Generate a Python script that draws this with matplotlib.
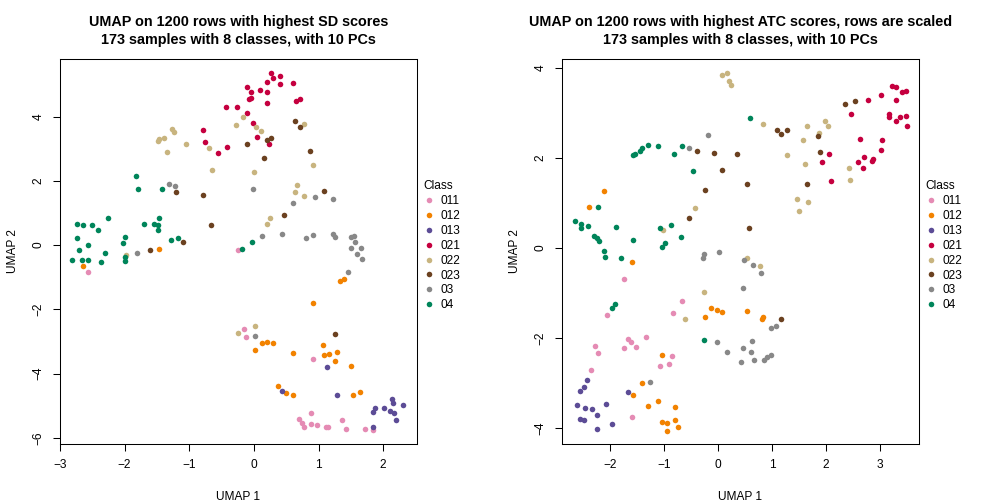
import matplotlib
matplotlib.use("Agg")
import matplotlib.pyplot as plt
from matplotlib.lines import Line2D

plt.rcParams["font.family"] = ["Liberation Sans", "DejaVu Sans"]

classes = ["011", "012", "013", "021", "022", "023", "03", "04"]
colors = ["#E58BB4", "#F28200", "#5C4C96", "#C5003F", "#C8B47F", "#6B4120", "#888888", "#00855A"]

# left panel: UMAP on rows with highest SD scores
sd_011 = [(-0.24, -0.16), (-2.56, -0.83), (-0.16, -2.60), (-0.13, -2.87), (0.92, -3.53),
          (0.89, -5.21), (0.70, -5.42), (0.74, -5.55), (0.78, -5.67), (0.88, -5.57),
          (0.98, -5.60), (1.12, -5.65), (1.15, -5.66), (1.37, -5.43), (1.42, -5.73),
          (1.72, -5.72), (1.85, -5.74)]
sd_012 = [(-1.47, -0.12), (-2.65, -0.65), (1.40, -1.05), (1.33, -1.13), (0.91, -1.81),
          (0.12, -3.04), (0.20, -3.03), (0.29, -3.06), (0.02, -3.25), (1.07, -3.11),
          (1.29, -3.33), (0.60, -3.37), (1.09, -3.41), (1.16, -3.40), (1.26, -3.60),
          (1.50, -3.75), (0.37, -4.40), (0.50, -4.60), (0.60, -4.65), (1.54, -4.65),
          (1.64, -4.56)]
sd_013 = [(1.13, -3.78), (0.44, -4.53), (1.29, -4.65), (2.14, -4.80), (2.15, -4.92),
          (2.31, -4.99), (1.87, -5.06), (1.85, -5.20), (2.02, -5.08), (2.11, -5.15),
          (2.17, -5.24), (2.20, -5.43), (1.85, -5.65)]
sd_021 = [(-0.43, 4.29), (-0.26, 4.29), (-0.78, 3.58), (-0.76, 3.20), (-0.42, 3.05),
          (-0.56, 2.86), (0.26, 5.36), (0.41, 5.27), (0.30, 5.19), (0.20, 5.07),
          (0.40, 5.02), (0.60, 5.04), (-0.11, 4.93), (0.10, 4.83), (-0.04, 4.76),
          (0.21, 4.75), (-0.08, 4.55), (-0.04, 4.57), (0.20, 4.43), (0.65, 4.48),
          (0.71, 4.54), (-0.10, 4.11), (-0.02, 3.80), (0.05, 3.36), (0.23, 3.14)]
sd_022 = [(-0.27, 3.73), (-1.27, 3.60), (-1.23, 3.53), (-1.47, 3.30), (-1.39, 3.32),
          (-1.49, 3.24), (-1.05, 3.13), (-0.70, 3.03), (-1.34, 2.91), (-0.65, 2.34),
          (-1.98, -0.32), (-0.17, 3.98), (0.04, 3.66), (0.11, 3.56), (0.77, 3.76),
          (0.91, 2.49), (0.00, 2.27), (0.67, 1.88), (0.63, 1.66), (0.77, 1.53),
          (0.25, 0.84), (0.21, 0.64), (0.01, -2.52), (-0.25, -2.73)]
sd_023 = [(-1.21, 1.65), (-0.78, 1.57), (-0.66, 0.63), (-1.09, 0.10), (-1.61, -0.16),
          (0.63, 3.86), (0.72, 3.67), (0.21, 3.27), (0.27, 3.33), (-0.11, 3.14),
          (0.87, 2.93), (0.16, 2.71), (1.08, 1.67), (0.47, 0.94), (1.26, -2.77)]
sd_03 = [(-1.32, 1.90), (-1.22, 1.84), (-1.81, -0.24), (-0.01, 1.75), (0.94, 1.50),
         (1.22, 1.44), (0.60, 1.31), (0.13, 0.29), (0.43, 0.35), (0.80, 0.22),
         (0.91, 0.32), (1.23, 0.35), (1.26, 0.26), (1.50, 0.25), (1.55, 0.27),
         (1.56, 0.10), (1.50, -0.09), (1.65, -0.09), (1.59, -0.29), (1.67, -0.43),
         (1.46, -0.83), (0.01, -2.84)]
sd_04 = [(-1.83, 2.15), (-1.80, 1.73), (-1.42, 1.75), (-2.25, 0.85), (-2.73, 0.66),
         (-2.65, 0.61), (-2.50, 0.61), (-2.41, 0.47), (-1.47, 0.84), (-1.70, 0.66),
         (-1.55, 0.66), (-1.49, 0.61), (-1.49, 0.46), (-2.73, 0.21), (-1.99, 0.26),
         (-1.28, 0.16), (-1.18, 0.21), (-2.03, 0.05), (-2.70, -0.14), (-2.56, 0.01),
         (-2.31, -0.24), (-2.82, -0.47), (-2.66, -0.45), (-2.56, -0.47), (-2.37, -0.53),
         (-2.00, -0.38), (-1.99, -0.50), (-0.03, 0.09), (-0.19, -0.11)]

# right panel: UMAP on rows with highest ATC scores
atc_011 = [(-1.74, -0.69), (-0.67, -1.19), (-0.84, -1.44), (-2.06, -1.50), (-1.66, -2.03),
           (-1.61, -2.10), (-1.34, -1.99), (-2.28, -2.19), (-2.22, -2.34), (-1.75, -2.23),
           (-1.51, -2.21), (-0.86, -2.41), (-0.90, -2.57), (-1.08, -2.63), (-2.35, -2.72),
           (-1.60, -3.75)]
atc_012 = [(-2.12, 1.27), (-2.39, 0.91), (-1.59, -0.32), (-0.12, -1.34), (-0.02, -1.37),
           (0.07, -1.42), (-0.24, -1.54), (-1.04, -2.38), (-1.40, -3.01), (-1.58, -3.28),
           (-1.30, -3.52), (-1.12, -3.41), (-0.80, -3.54), (-1.04, -3.86), (-0.95, -3.90),
           (-0.79, -3.83), (-0.74, -3.99), (-0.94, -4.06), (0.53, -1.41), (0.83, -1.54),
           (0.82, -1.58)]
atc_013 = [(-2.43, -2.94), (-2.49, -3.10), (-2.56, -3.18), (-1.67, -3.20), (-2.61, -3.49),
           (-2.07, -3.46), (-2.47, -3.57), (-2.34, -3.58), (-2.24, -3.71), (-2.56, -3.80),
           (-2.48, -3.83), (-1.96, -3.92), (-2.25, -4.03)]
atc_021 = [(3.22, 3.59), (3.30, 3.57), (3.40, 3.46), (3.49, 3.48), (3.02, 3.39),
           (2.78, 3.28), (3.30, 3.28), (2.46, 2.98), (3.16, 2.98), (3.16, 2.91),
           (3.38, 2.90), (3.48, 2.94), (3.30, 2.82), (3.51, 2.72), (2.05, 2.08),
           (2.64, 2.41), (3.04, 2.39), (3.02, 2.18), (1.93, 1.90), (2.60, 1.91),
           (2.70, 2.01), (2.88, 1.98), (2.86, 1.94), (2.68, 1.77), (2.09, 1.48)]
atc_022 = [(0.07, 3.84), (0.16, 3.88), (0.20, 3.72), (0.25, 3.62), (-0.43, 0.88),
           (-1.01, 0.40), (0.84, 2.75), (1.64, 2.72), (1.99, 2.83), (2.03, 2.72),
           (1.88, 2.56), (1.58, 2.40), (1.27, 2.07), (1.62, 1.86), (2.43, 1.77),
           (2.44, 1.51), (1.47, 1.08), (1.67, 1.01), (1.50, 0.82), (-0.25, -0.99),
           (-0.61, -1.57), (0.53, -0.22), (0.77, -0.41)]
atc_023 = [(-0.38, 2.15), (-0.08, 2.10), (0.36, 2.08), (0.07, 1.74), (-0.24, 1.28),
           (-0.53, 0.66), (2.36, 3.19), (2.53, 3.26), (1.10, 2.63), (1.17, 2.53),
           (1.27, 2.61), (1.85, 2.48), (1.89, 2.14), (0.53, 1.42), (1.65, 1.41),
           (0.57, 0.44), (1.16, -1.59)]
atc_03 = [(-0.18, 2.51), (-0.54, 2.21), (0.01, -0.09), (-0.26, -0.14), (-0.27, -0.23),
          (-0.01, -2.10), (0.17, -2.32), (-1.25, -2.99), (0.49, -0.28), (0.64, -0.39),
          (0.80, -0.55), (0.46, -0.90), (0.99, -1.79), (1.08, -1.74), (0.63, -2.06),
          (0.46, -2.23), (0.61, -2.32), (0.43, -2.54), (0.66, -2.50), (0.85, -2.50),
          (0.91, -2.43), (0.99, -2.39)]
atc_04 = [(-0.67, 2.27), (-1.30, 2.28), (-1.12, 2.26), (-1.41, 2.21), (-1.44, 2.15),
          (-1.57, 2.07), (-1.53, 2.08), (-0.82, 2.08), (-0.46, 1.70), (-2.23, 0.91),
          (-2.64, 0.60), (-2.54, 0.54), (-2.54, 0.45), (-2.41, 0.48), (-1.88, 0.46),
          (-1.08, 0.45), (-0.87, 0.50), (-2.30, 0.26), (-2.25, 0.21), (-2.20, 0.16),
          (-1.57, 0.17), (-0.68, 0.25), (-0.98, 0.10), (-1.03, 0.03), (-2.11, -0.06),
          (-2.10, -0.21), (-1.80, -0.23), (0.59, 2.88), (-1.91, -1.25), (-1.97, -1.34),
          (-0.25, -2.05)]

sd_groups = [sd_011, sd_012, sd_013, sd_021, sd_022, sd_023, sd_03, sd_04]
atc_groups = [atc_011, atc_012, atc_013, atc_021, atc_022, atc_023, atc_03, atc_04]

panels = [
    dict(groups=sd_groups, pos=[0.0595, 0.119, 0.354, 0.764],
         xlim=(-3.0, 2.52), ylim=(-6.19, 5.79), xticks=range(-3, 3), yticks=range(-6, 5, 2),
         title="UMAP on 1200 rows with highest SD scores\n173 samples with 8 classes, with 10 PCs"),
    dict(groups=atc_groups, pos=[0.5575, 0.119, 0.354, 0.764],
         xlim=(-2.89, 3.72), ylim=(-4.36, 4.2), xticks=range(-2, 4), yticks=range(-4, 5, 2),
         title="UMAP on 1200 rows with highest ATC scores, rows are scaled\n173 samples with 8 classes, with 10 PCs"),
]

fig = plt.figure(figsize=(10.08, 5.04), dpi=100)
for p in panels:
    ax = fig.add_axes(p["pos"])
    for pts, col in zip(p["groups"], colors):
        ax.scatter([q[0] for q in pts], [q[1] for q in pts], s=16, color=col,
                   linewidths=0, zorder=3)
    ax.set_xlim(*p["xlim"])
    ax.set_ylim(*p["ylim"])
    ax.set_xticks(list(p["xticks"]))
    ax.set_yticks(list(p["yticks"]))
    ax.tick_params(direction="out", length=5, width=0.75, labelsize=8.6, pad=6)
    for lab in ax.get_yticklabels():
        lab.set_rotation(90)
        lab.set_va("center")
    for sp in ax.spines.values():
        sp.set_linewidth(0.75)
    ax.set_xlabel("UMAP 1", fontsize=8.6, labelpad=14)
    ax.set_ylabel("UMAP 2", fontsize=8.6, labelpad=10)
    ax.set_title(p["title"], fontsize=10.4, fontweight="bold", linespacing=1.3, pad=11)

    handles = [Line2D([], [], marker="o", linestyle="none", markersize=4,
                      markerfacecolor=c, markeredgewidth=0) for c in colors]
    leg = ax.legend(handles, classes, title="Class", loc="upper left",
                    bbox_to_anchor=(1.005, 0.697), frameon=False, fontsize=8.6,
                    title_fontsize=8.6, handlelength=1.0, handletextpad=0.4,
                    labelspacing=0.24, borderaxespad=0, alignment="left")

fig.savefig("out.png", dpi=100)
